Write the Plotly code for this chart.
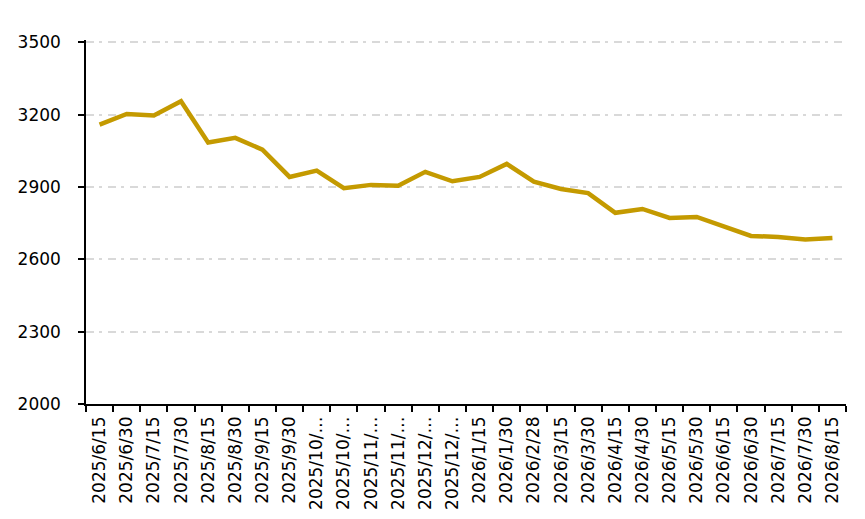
import plotly.graph_objects as go

# Stichtage (Kategorien) und Werte der Linie
dates = [
    "2025/6/15", "2025/6/30", "2025/7/15", "2025/7/30", "2025/8/15", "2025/8/30",
    "2025/9/15", "2025/9/30", "2025/10/15", "2025/10/30", "2025/11/15", "2025/11/30",
    "2025/12/15", "2025/12/30", "2026/1/15", "2026/1/30", "2026/2/28", "2026/3/15",
    "2026/3/30", "2026/4/15", "2026/4/30", "2026/5/15", "2026/5/30", "2026/6/15",
    "2026/6/30", "2026/7/15", "2026/7/30", "2026/8/15",
]
values = [
    3159, 3203, 3197, 3256, 3085, 3104, 3055, 2942, 2968, 2895, 2909, 2905,
    2963, 2924, 2942, 2996, 2922, 2892, 2875, 2793, 2809, 2772, 2776, 2737,
    2697, 2693, 2682, 2689,
]
# im Original abgeschnittene Beschriftungen
tick_labels = [d if len(d) <= 9 else d[:8] + "…" for d in dates]
y_ticks = [2000, 2300, 2600, 2900, 3200, 3500]

font_family = "DejaVu Sans, sans-serif"

fig = go.Figure()
fig.add_trace(go.Scatter(
    x=dates,
    y=values,
    mode="lines",
    line=dict(color="#C49A00", width=4.5),
    hoverinfo="x+y",
))

# die Seite hat 8px Rand, daher links/oben 8px weniger
fig.update_layout(
    width=865,
    height=519,
    margin=dict(l=78, r=27, t=32, b=123),
    paper_bgcolor="white",
    plot_bgcolor="white",
    showlegend=False,
    font=dict(family=font_family, size=17, color="black"),
)

fig.update_xaxes(
    type="category",
    range=[-0.5, len(dates) - 0.5],
    automargin=False,
    tickmode="array",
    tickvals=dates,
    ticktext=tick_labels,
    tickangle=-90,
    tickson="boundaries",
    ticks="outside",
    ticklen=6,
    tickwidth=1.5,
    tickcolor="black",
    ticklabelstandoff=4,
    showline=True,
    linecolor="black",
    linewidth=1.5,
    showgrid=False,
    tickfont=dict(size=17),
)

# etwas Luft über 3500, sonst blendet Plotly die oberste Gitterlinie aus
fig.update_yaxes(
    range=[2000, 3510],
    automargin=False,
    tickmode="array",
    tickvals=y_ticks,
    ticks="outside",
    ticklen=6,
    tickwidth=1.5,
    tickcolor="black",
    ticklabelstandoff=14,
    showline=True,
    linecolor="black",
    linewidth=1.5,
    showgrid=True,
    gridcolor="#D9D9D9",
    gridwidth=2,
    griddash="8px,5px,3px,6px",
    zeroline=False,
    tickfont=dict(size=17),
)

fig.write_html("out.html")
